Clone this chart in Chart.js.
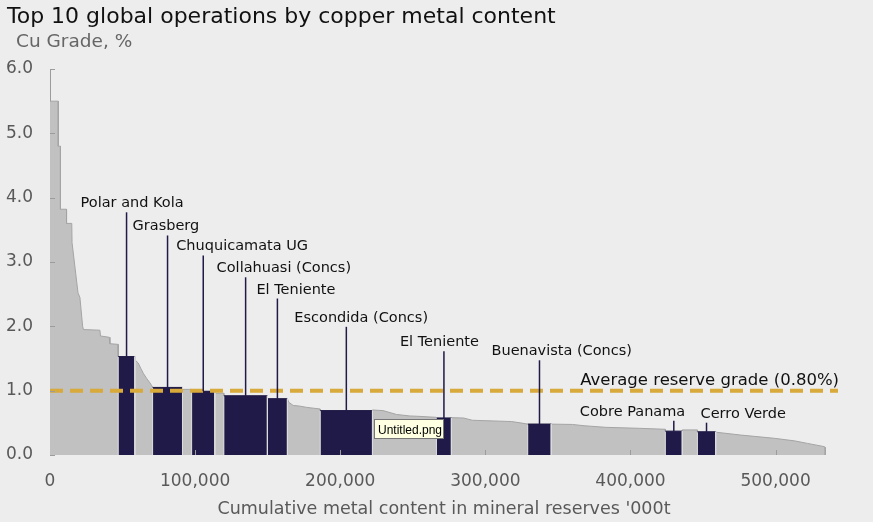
<!DOCTYPE html>
<html>
<head>
<meta charset="utf-8">
<script src="https://cdn.jsdelivr.net/npm/chart.js@4.4.1/dist/chart.umd.min.js"></script>
<style>
    html, body { margin: 0; padding: 0; background: #ededed; }
    #wrap { width: 873px; height: 522px; position: relative; }
</style>
</head>
<body>
<div id="wrap"><canvas id="gradeChart"></canvas></div>
<script>
// Reserve curve: cumulative metal content ('000t) against Cu grade (%)
const curveContent = [
    0, 5700, 5700, 7200, 7200, 11400, 11400, 15000, 15200, 19300,
    20600, 22500, 23000, 34400, 34800, 40800, 41300, 46900, 47000, 58500,
    58500, 60800, 62500, 64300, 66600, 68900, 70600, 70700, 91300, 91300,
    97600, 97600, 113600, 113600, 119800, 119800, 149800, 149800, 163600, 164500,
    167600, 172000, 177000, 186200, 186200, 222200, 222200, 229500, 238800, 247900,
    255000, 265800, 266300, 276600, 276600, 285000, 291000, 318000, 324000, 329200,
    345400, 360000, 368000, 383000, 406000, 424000, 424000, 435700, 435700, 446100,
    446100, 458700, 458700, 476000, 499000, 513000, 522000, 533500, 534200, 534200
];
const curveGrade = [
    5.5, 5.5, 4.8, 4.8, 3.82, 3.82, 3.6, 3.6, 3.3, 2.52,
    2.45, 2.0, 1.95, 1.94, 1.85, 1.83, 1.73, 1.72, 1.53, 1.53,
    1.48, 1.43, 1.35, 1.27, 1.19, 1.12, 1.06, 1.05, 1.05, 1.02,
    1.02, 0.99, 0.99, 0.96, 0.96, 0.92, 0.92, 0.875, 0.875, 0.82,
    0.77, 0.76, 0.74, 0.715, 0.69, 0.69, 0.70, 0.69, 0.63, 0.607,
    0.60, 0.586, 0.575, 0.575, 0.58, 0.575, 0.54, 0.52, 0.50, 0.48,
    0.48, 0.475, 0.455, 0.43, 0.415, 0.40, 0.37, 0.37, 0.39, 0.39,
    0.36, 0.36, 0.355, 0.31, 0.26, 0.22, 0.18, 0.13, 0.12, 0
];

// Top 10 operations
const operationNames = [
    "Polar and Kola", "Grasberg", "Chuquicamata UG", "Collahuasi (Concs)", "El Teniente",
    "Escondida (Concs)", "El Teniente", "Buenavista (Concs)", "Cobre Panama", "Cerro Verde"
];
const operationStart = [47000, 70700, 97600, 119800, 149800, 186200, 266300, 329200, 424000, 446100];
const operationEnd = [58500, 91300, 113600, 149800, 163600, 222200, 276600, 345400, 435700, 458700];
const operationGrade = [1.53, 1.05, 0.99, 0.92, 0.875, 0.69, 0.575, 0.48, 0.37, 0.36];

const averageGradeLine = 1.0;
const averageGradeLabel = "Average reserve grade (0.80%)";

const xTickValues = [0, 100000, 200000, 300000, 400000, 500000];
const yTickValues = [0, 1, 2, 3, 4, 5, 6];
const xAxisMax = 543000;
const yAxisMax = 6;

// label placement: text left offset from leader (px), baseline on the grade axis
const labelLayout = [
    { dx: -46, grade: 3.85 },
    { dx: -35, grade: 3.49 },
    { dx: -27, grade: 3.18 },
    { dx: -29, grade: 2.84 },
    { dx: -21, grade: 2.51 },
    { dx: -52, grade: 2.07 },
    { dx: -44, grade: 1.69 },
    { dx: -48, grade: 1.55 },
    { dx: -94, grade: 0.61 },
    { dx: -6, grade: 0.58 }
];

const colours = {
    navy: "#1f1a47",
    reserve: "#c1c1c1",
    reserveEdge: "#a4a4a4",
    separator: "#dcdcdc",
    gold: "#d8a93b",
    axis: "#9c9c9c",
    label: "#111111",
    muted: "#595959"
};

Chart.defaults.font.family = "'DejaVu Sans', sans-serif";

const annotationPlugin = {
    id: "annotations",
    afterDatasetsDraw(chart) {
        const { ctx, chartArea } = chart;
        const x = chart.scales.x;
        const y = chart.scales.y;

        ctx.save();

        // inner tick marks
        ctx.strokeStyle = colours.axis;
        ctx.lineWidth = 1;
        ctx.beginPath();
        xTickValues.slice(1).forEach((value) => {
            const px = Math.round(x.getPixelForValue(value)) + 0.5;
            ctx.moveTo(px, chartArea.bottom);
            ctx.lineTo(px, chartArea.bottom - 5);
        });
        yTickValues.forEach((value) => {
            const py = Math.round(y.getPixelForValue(value)) + 0.5;
            ctx.moveTo(chartArea.left, py);
            ctx.lineTo(chartArea.left + 5, py);
        });
        ctx.stroke();

        // leaders and operation names
        ctx.font = "14.5px 'DejaVu Sans'";
        ctx.fillStyle = colours.label;
        ctx.textBaseline = "alphabetic";
        ctx.textAlign = "left";
        operationNames.forEach((name, i) => {
            const cx = x.getPixelForValue((operationStart[i] + operationEnd[i]) / 2);
            const baseY = y.getPixelForValue(labelLayout[i].grade);
            const barTop = y.getPixelForValue(operationGrade[i]);

            ctx.strokeStyle = colours.navy;
            ctx.lineWidth = 1.5;
            ctx.beginPath();
            ctx.moveTo(cx, baseY + 5);
            ctx.lineTo(cx, barTop);
            ctx.stroke();

            ctx.fillText(name, cx + labelLayout[i].dx, baseY);
        });

        ctx.font = "16.5px 'DejaVu Sans'";
        ctx.textAlign = "right";
        ctx.fillText(averageGradeLabel, chartArea.right + 1, y.getPixelForValue(averageGradeLine) - 6);

        ctx.restore();
    },
    afterDraw(chart) {
        const { ctx } = chart;

        ctx.save();
        ctx.textAlign = "left";
        ctx.textBaseline = "alphabetic";
        ctx.fillStyle = colours.label;
        ctx.font = "22px 'DejaVu Sans'";
        ctx.fillText("Top 10 global operations by copper metal content", 7, 23);
        ctx.fillStyle = "#666666";
        ctx.font = "18.5px 'DejaVu Sans'";
        ctx.fillText("Cu Grade, %", 16, 47);

        // file-name tooltip seen in the screenshot
        ctx.fillStyle = "#ffffe1";
        ctx.strokeStyle = "#767676";
        ctx.lineWidth = 1;
        ctx.fillRect(374.5, 419.5, 69, 19);
        ctx.strokeRect(374.5, 419.5, 69, 19);
        ctx.fillStyle = "#000000";
        ctx.font = "12px 'Liberation Sans'";
        ctx.fillText("Untitled.png", 378, 434);
        ctx.restore();
    }
};

const curvePoints = curveContent.map((content, i) => ({ x: content, y: curveGrade[i] }));

const operationDatasets = operationNames.map((name, i) => ({
    label: name,
    data: [
        { x: operationStart[i], y: 0 },
        { x: operationStart[i], y: operationGrade[i] },
        { x: operationEnd[i], y: operationGrade[i] },
        { x: operationEnd[i], y: 0 }
    ],
    backgroundColor: colours.navy,
    borderColor: colours.separator,
    borderWidth: 1,
    segment: {
        borderColor: (ctx) => (ctx.p0DataIndex === 1 ? colours.navy : colours.separator)
    },
    fill: "origin",
    pointRadius: 0,
    tension: 0,
    order: 1
}));

new Chart(document.getElementById("gradeChart"), {
    type: "line",
    data: {
        datasets: [
            {
                label: "Average reserve grade",
                data: [{ x: 0, y: averageGradeLine }, { x: xAxisMax, y: averageGradeLine }],
                borderColor: colours.gold,
                borderWidth: 4,
                borderDash: [13, 7],
                pointRadius: 0,
                fill: false,
                order: 0
            },
            ...operationDatasets,
            {
                label: "Reserves",
                data: curvePoints,
                backgroundColor: colours.reserve,
                borderColor: colours.reserveEdge,
                borderWidth: 1,
                fill: "origin",
                pointRadius: 0,
                tension: 0,
                order: 2
            }
        ]
    },
    options: {
        responsive: true,
        maintainAspectRatio: false,
        animation: false,
        events: [],
        layout: { padding: { left: 0, right: 35, top: 69, bottom: 0 } },
        plugins: {
            legend: { display: false },
            tooltip: { enabled: false }
        },
        scales: {
            x: {
                type: "linear",
                min: 0,
                max: xAxisMax,
                border: { display: false },
                grid: { display: false, drawTicks: false },
                afterBuildTicks: (scale) => { scale.ticks = xTickValues.map((value) => ({ value })); },
                afterFit: (scale) => { scale.height = 67; },
                ticks: {
                    padding: 16,
                    color: colours.muted,
                    font: { size: 17 },
                    maxRotation: 0,
                    autoSkip: false,
                    callback: (value) => value.toLocaleString("en-US")
                },
                title: {
                    display: true,
                    text: "Cumulative metal content in mineral reserves '000t",
                    color: colours.muted,
                    font: { size: 17.5 },
                    padding: { top: 0, bottom: 2 }
                }
            },
            y: {
                type: "linear",
                min: 0,
                max: yAxisMax,
                border: { display: true, color: colours.axis, width: 1 },
                grid: { display: false, drawTicks: false },
                afterBuildTicks: (scale) => { scale.ticks = yTickValues.map((value) => ({ value })); },
                afterFit: (scale) => { scale.width = 50; },
                ticks: {
                    padding: 17,
                    color: colours.muted,
                    font: { size: 17 },
                    callback: (value) => value.toFixed(1)
                }
            }
        }
    },
    plugins: [annotationPlugin]
});
</script>
</body>
</html>
